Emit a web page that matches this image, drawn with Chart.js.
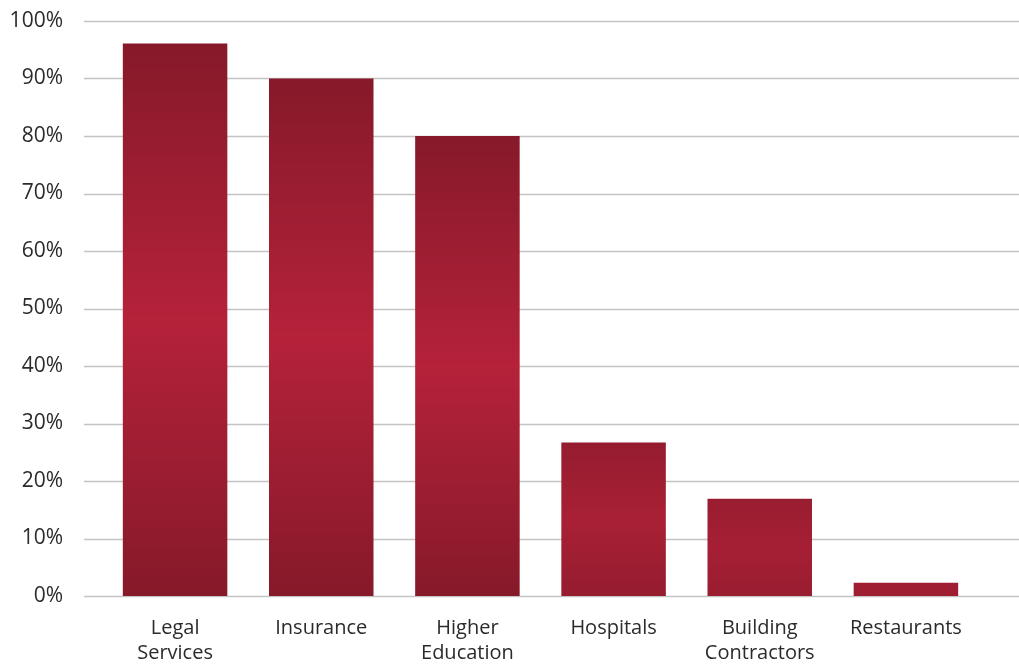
<!DOCTYPE html>
<html>
<head>
<meta charset="utf-8">
<script src="https://cdn.jsdelivr.net/npm/chart.js@4"></script>
<style>
  html, body { margin: 0; padding: 0; background: #fff; }
  #wrap { width: 1019px; height: 665px; }
</style>
</head>
<body>
<div id="wrap"><canvas id="barChart"></canvas></div>
<script>
var categories = [['Legal', 'Services'], 'Insurance', ['Higher', 'Education'], 'Hospitals', ['Building', 'Contractors'], 'Restaurants'];
var shares = [96.1, 90, 80, 26.7, 16.9, 2.3];
var tickValues = [0, 10, 20, 30, 40, 50, 60, 70, 80, 90, 100];

function mix(a, b, k) {
    var r = Math.round(a[0] + (b[0] - a[0]) * k);
    var g = Math.round(a[1] + (b[1] - a[1]) * k);
    var bl = Math.round(a[2] + (b[2] - a[2]) * k);
    return 'rgb(' + r + ',' + g + ',' + bl + ')';
}

var midRed = [160, 30, 50];
var darkRed = [134, 25, 41];
var lightRed = [181, 34, 58];

// vertical shading for each bar, stronger on the tall ones
function barFill(ctx) {
    var chart = ctx.chart;
    var yScale = chart.scales.y;
    if (!yScale || ctx.dataIndex === undefined) return 'rgb(160,30,50)';
    var top = yScale.getPixelForValue(shares[ctx.dataIndex]);
    var bottom = yScale.getPixelForValue(0);
    if (!isFinite(top) || !isFinite(bottom) || bottom - top < 1) return 'rgb(160,30,50)';
    var k = Math.min(1, (bottom - top) / 350);
    var grad = chart.ctx.createLinearGradient(0, top, 0, bottom);
    grad.addColorStop(0, mix(midRed, darkRed, k));
    grad.addColorStop(0.5, mix(midRed, lightRed, k));
    grad.addColorStop(1, mix(midRed, darkRed, k));
    return grad;
}

// grid lines run wider than the bar area
var wideGrid = {
    id: 'wideGrid',
    beforeDatasetsDraw: function (chart) {
        var c = chart.ctx;
        var y = chart.scales.y;
        c.save();
        c.strokeStyle = '#c4c4c4';
        c.lineWidth = 1.5;
        tickValues.forEach(function (v) {
            var py = Math.round(y.getPixelForValue(v)) + 0.5;
            c.beginPath();
            c.moveTo(84, py);
            c.lineTo(1019, py);
            c.stroke();
        });
        c.restore();
    }
};

new Chart(document.getElementById('barChart'), {
    type: 'bar',
    data: {
        labels: categories,
        datasets: [{
            data: shares,
            backgroundColor: barFill,
            borderWidth: 0,
            categoryPercentage: 1,
            barPercentage: 0.715
        }]
    },
    options: {
        responsive: true,
        maintainAspectRatio: false,
        animation: false,
        layout: { padding: { top: 21, right: 40, left: 0, bottom: 0 } },
        plugins: {
            legend: { display: false },
            tooltip: { enabled: false }
        },
        scales: {
            x: {
                grid: { display: false },
                border: { display: false },
                ticks: {
                    color: '#2b2b2b',
                    padding: 11,
                    maxRotation: 0,
                    autoSkip: false,
                    font: { family: 'Open Sans', size: 20, lineHeight: 1.28 }
                },
                afterFit: function (scale) { scale.height = 69; }
            },
            y: {
                min: 0,
                max: 100,
                grid: { display: false, drawTicks: false },
                border: { display: false },
                afterBuildTicks: function (scale) {
                    scale.ticks = tickValues.map(function (v) { return { value: v }; });
                },
                ticks: {
                    color: '#2b2b2b',
                    padding: 39,
                    font: { family: 'Open Sans', size: 21 },
                    callback: function (v) { return v + '%'; }
                },
                afterFit: function (scale) {
                    scale.width = 102;
                    scale.paddingTop = 0;
                    scale.paddingBottom = 0;
                }
            }
        }
    },
    plugins: [wideGrid]
});
</script>
</body>
</html>
